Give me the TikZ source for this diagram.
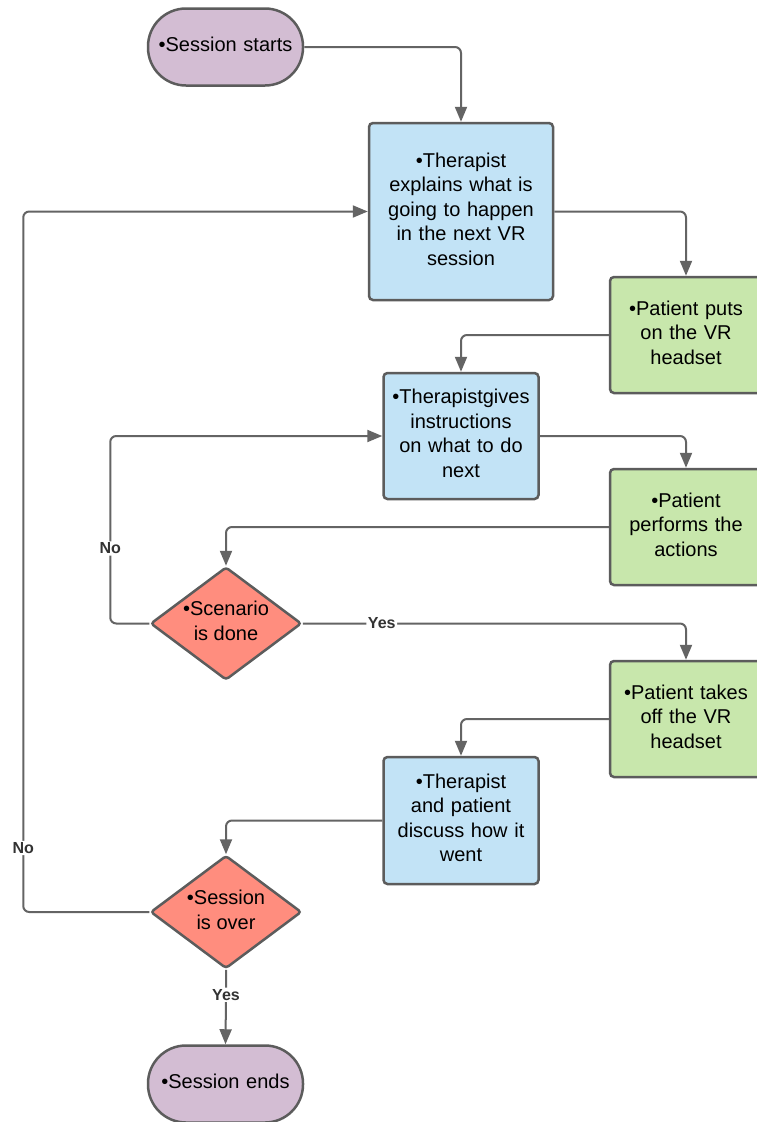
\documentclass[tikz,border=0pt]{standalone}
\usepackage{fontspec}
\setmainfont{Liberation Sans}
\usetikzlibrary{shapes.geometric,arrows.meta}
\definecolor{termfill}{HTML}{D3BDD3}
\definecolor{bluefill}{HTML}{C2E3F6}
\definecolor{greenfill}{HTML}{C8E7AC}
\definecolor{redfill}{HTML}{FF8D7E}
\definecolor{bordercol}{HTML}{5C5C5C}
\definecolor{linecol}{HTML}{646464}
\definecolor{labcol}{HTML}{333333}
\tikzset{
  base/.style={draw=bordercol, line width=2.5pt, align=center, inner sep=2pt,
    font=\fontsize{20}{24.5}\selectfont, execute at end node={\par\vspace{5pt}}},
  term/.style={base, fill=termfill, rounded corners=38pt, minimum width=155pt, minimum height=77pt, text width=150pt},
  bluebox/.style={base, fill=bluefill, rounded corners=4pt},
  greenbox/.style={base, fill=greenfill, rounded corners=4pt, minimum width=152pt, minimum height=116pt, text width=146pt},
  dec/.style={draw=bordercol, line width=2.5pt, fill=redfill, diamond, inner sep=0pt, rounded corners=3pt,
    minimum width=151pt, minimum height=113pt},
  dectext/.style={align=center, inner sep=0pt, font=\fontsize{20}{24.5}\selectfont},
  conn/.style={draw=linecol, line width=2pt, rounded corners=6pt, -{Triangle[length=15pt,width=12pt]}},
  lab/.style={fill=white, text=labcol, inner sep=1.5pt, font=\bfseries\fontsize{16}{18}\selectfont},
}
\begin{document}
\begin{tikzpicture}[x=1pt,y=-1pt]
\clip (0,0) rectangle (757,1122);
\fill[white] (0,0) rectangle (757,1122);
% nodes
\node[term] (start) at (225.5,47) {•Session starts};
\node[bluebox, minimum width=184pt, minimum height=177pt, text width=178pt] (t1) at (461,211.5)
  {•Therapist\\explains what is\\going to happen\\in the next VR\\session};
\node[greenbox] (p1) at (686,335) {•Patient puts\\on the VR\\headset};
\node[bluebox, minimum width=155pt, minimum height=126pt, text width=151pt] (t2) at (461,436)
  {•Therapistgives\\instructions\\on what to do\\next};
\node[greenbox] (p2) at (686,527) {•Patient\\performs the\\actions};
\node[dec] (d1) at (226,623.5) {};
\node[dectext] (d1t) at (226,621) {•Scenario\\is done};
\node[greenbox] (p3) at (686,719) {•Patient takes\\off the VR\\headset};
\node[bluebox, minimum width=155pt, minimum height=127pt, text width=151pt] (t3) at (461,820.5)
  {•Therapist\\and patient\\discuss how it\\went};
\node[dec] (d2) at (226,912) {};
\node[dectext] (d2t) at (226,910) {•Session\\is over};
\node[term] (end) at (225.5,1084) {•Session ends};
% connectors
\draw[conn] (start.east) -| (t1.north);
\draw[conn] (t1.east) -| (p1.north);
\draw[conn] (p1.west) -| (t2.north);
\draw[conn] (t2.east) -| (p2.north);
\draw[conn] (p2.west) -| (d1.north);
\draw[conn] (d1.west) -- ++(-39,0) -- ++(0,-75) node[lab] {No} |- (t2.west);
\draw[conn] (d1.east) -- ++(79,0) node[lab] {Yes} -| (p3.north);
\draw[conn] (p3.west) -| (t3.north);
\draw[conn] (t3.west) -| (d2.north);
\draw[conn] (d2.west) -- ++(-126,0) -- ++(0,-64) node[lab] {No} |- (t1.west);
\draw[conn] (d2.south) -- ++(0,25) node[lab] {Yes} -- (end.north);
\end{tikzpicture}
\end{document}
